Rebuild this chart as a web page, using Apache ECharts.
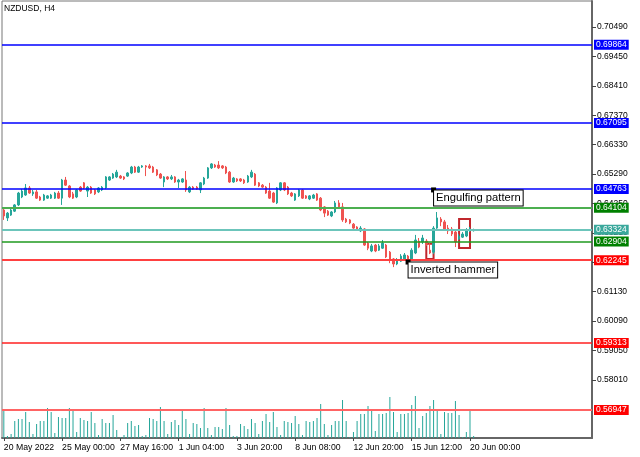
<!DOCTYPE html>
<html><head><meta charset="utf-8">
<script src="https://cdn.jsdelivr.net/npm/echarts@6/dist/echarts.min.js"></script>
<style>html,body{margin:0;padding:0;background:#fff}#c{width:640px;height:457px}</style>
</head><body><div id="c"></div>
<script>
// ---- data ----
const symbolTitle = 'NZDUSD, H4';
const barCount = 130;
const tickLabels = ['20 May 2022','25 May 00:00','27 May 16:00','1 Jun 04:00','3 Jun 20:00','8 Jun 08:00','12 Jun 20:00','15 Jun 12:00','20 Jun 00:00'];
const opens = [
.6402,.6374,.6384,.6398,.6420,.6448,.6455,.6480,.6459,.6466,
.6448,.6437,.6444,.6444,.6444,.6462,.6444,.6508,.6487,.6459,
.6448,.6483,.6498,.6469,.6483,.6473,.6466,.6473,.6480,.6508,
.6515,.6519,.6522,.6519,.6522,.6533,.6554,.6536,.6554,.6558,
.6558,.6554,.6544,.6529,.6501,.6519,.6512,.6519,.6501,.6501,
.6508,.6466,.6483,.6483,.6473,.6494,.6515,.6551,.6561,.6561,
.6558,.6554,.6536,.6501,.6512,.6512,.6508,.6501,.6519,.6529,
.6498,.6490,.6483,.6469,.6462,.6427,.6473,.6498,.6483,.6462,
.6437,.6452,.6473,.6452,.6441,.6444,.6459,.6444,.6413,.6398,
.6381,.6395,.6427,.6413,.6370,.6367,.6352,.6342,.6328,.6335,
.6285,.6257,.6278,.6260,.6267,.6278,.6253,.6229,.6211,.6221,
.6229,.6239,.6229,.6250,.6292,.6289,.6292,.6260,.6253,.6338,
.6370,.6360,.6338,.6335,.6324,.6299,.6306,.6310,.6328,.6329];
const closes = [
.6381,.6391,.6402,.6420,.6462,.6469,.6480,.6462,.6466,.6444,
.6437,.6455,.6452,.6455,.6462,.6444,.6508,.6490,.6448,.6444,
.6473,.6469,.6480,.6483,.6462,.6459,.6480,.6483,.6519,.6519,
.6529,.6536,.6515,.6512,.6533,.6554,.6536,.6554,.6558,.6554,
.6551,.6536,.6526,.6515,.6519,.6512,.6519,.6501,.6508,.6512,
.6473,.6483,.6476,.6476,.6498,.6515,.6551,.6565,.6554,.6551,
.6551,.6533,.6501,.6515,.6505,.6505,.6498,.6522,.6536,.6490,
.6487,.6483,.6462,.6444,.6430,.6480,.6498,.6473,.6459,.6452,
.6459,.6473,.6444,.6444,.6452,.6455,.6437,.6402,.6391,.6384,
.6395,.6427,.6413,.6367,.6360,.6356,.6338,.6331,.6338,.6278,
.6267,.6275,.6257,.6275,.6285,.6236,.6225,.6211,.6225,.6239,
.6243,.6225,.6260,.6296,.6271,.6303,.6282,.6250,.6338,.6374,
.6360,.6335,.6328,.6317,.6289,.6310,.6317,.6331,.6335,.6332];
const highs = [
.6409,.6395,.6406,.6423,.6466,.6476,.6494,.6487,.6473,.6473,
.6452,.6459,.6455,.6459,.6466,.6469,.6512,.6519,.6490,.6466,
.6476,.6487,.6501,.6487,.6487,.6476,.6483,.6487,.6522,.6522,
.6533,.6544,.6526,.6522,.6536,.6558,.6558,.6558,.6561,.6561,
.6565,.6558,.6547,.6533,.6522,.6522,.6526,.6522,.6512,.6515,
.6540,.6487,.6487,.6487,.6501,.6519,.6554,.6568,.6565,.6575,
.6561,.6558,.6540,.6519,.6515,.6515,.6512,.6526,.6544,.6533,
.6501,.6494,.6487,.6498,.6466,.6483,.6501,.6501,.6487,.6466,
.6462,.6476,.6476,.6455,.6455,.6459,.6462,.6448,.6416,.6402,
.6398,.6434,.6437,.6427,.6374,.6370,.6356,.6345,.6345,.6338,
.6289,.6282,.6282,.6282,.6296,.6282,.6257,.6232,.6232,.6246,
.6250,.6243,.6267,.6314,.6303,.6314,.6299,.6285,.6345,.6395,
.6377,.6367,.6349,.6342,.6328,.6317,.6324,.6338,.6342,.6336];
const lows = [
.6367,.6363,.6381,.6395,.6416,.6444,.6452,.6459,.6452,.6441,
.6434,.6434,.6441,.6441,.6441,.6441,.6420,.6487,.6444,.6441,
.6444,.6466,.6476,.6448,.6459,.6455,.6462,.6469,.6476,.6505,
.6512,.6515,.6512,.6508,.6519,.6529,.6533,.6533,.6551,.6522,
.6547,.6533,.6522,.6512,.6483,.6508,.6508,.6498,.6480,.6498,
.6466,.6462,.6473,.6473,.6462,.6490,.6512,.6547,.6551,.6547,
.6547,.6529,.6498,.6498,.6501,.6501,.6494,.6498,.6515,.6487,
.6483,.6480,.6459,.6441,.6427,.6423,.6469,.6469,.6455,.6448,
.6434,.6448,.6441,.6441,.6437,.6441,.6434,.6398,.6377,.6381,
.6377,.6391,.6409,.6360,.6356,.6352,.6335,.6328,.6324,.6275,
.6260,.6253,.6253,.6257,.6264,.6232,.6214,.6200,.6207,.6218,
.6225,.6218,.6221,.6246,.6267,.6282,.6275,.6246,.6246,.6335,
.6345,.6331,.6317,.6310,.6271,.6296,.6303,.6306,.6324,.6326];
const volumes = [
2800,200,400,1700,1900,1900,2600,1600,400,1400,
1700,1700,3000,2600,500,2100,2000,2000,3000,2800,
600,2000,1800,1700,2600,1500,300,1900,1500,1500,
2300,800,100,300,1500,1700,1200,1300,200,300,
2000,1900,1700,3100,1700,400,1600,1800,1300,2800,
1900,400,1500,1400,1000,3000,1000,300,1100,1100,
900,3000,1300,200,200,1400,1200,900,1900,1500,
400,1700,2400,1600,2600,1100,300,1700,1600,1500,
2200,1400,300,1700,1600,1700,2000,3400,1400,300,
1300,1700,1700,3800,1700,100,600,1700,2400,2400,
3200,2800,700,2400,2400,2500,4100,2600,600,2400,
2400,2500,3300,4200,1000,2200,2500,3200,3800,2800,
400,2600,2500,2500,3700,2300,100,600,2800,200];
const levels = [0.69864,0.67095,0.64763,0.64104,0.63324,0.62904,0.62245,0.59313,0.56947];
const yTicks = [0.70490,0.69450,0.68410,0.67370,0.66330,0.65290,0.64250,0.63210,0.62170,0.61130,0.60090,0.59050,0.58010];
const boxFrom = [116,125];
const boxTo = [118,128];
const boxTop = [0.6283,0.6370];
const boxBottom = [0.6229,0.6268];
const noteText = ['Engulfing pattern','Inverted hammer'];
const noteBar = [118,111];
const notePrice = [0.6473,0.6218];

// ---- styles ----
const levelLine = ['#0000ff','#0000ff','#0000ff','#4caf50','#6cc5bb','#1f9a1f','#ff4040','#ff2020','#ff6464'];
const levelWidth = [1.5,1.5,1.5,2,2,1.5,2,1.5,2];
const levelBg = ['#0000ff','#0000ff','#0000ff','#008000','#3aa89c','#008000','#ff0000','#ff0000','#ff0000'];
const FONT = 'Liberation Sans';

const months=['Jan','Feb','Mar','Apr','May','Jun','Jul','Aug','Sep','Oct','Nov','Dec'];
const categories=[];
let t = Date.UTC(2022,4,20,12);
while(categories.length<barCount){
  const d=new Date(t), wd=d.getUTCDay(), h=d.getUTCHours();
  if((wd>=1&&wd<=5)||(wd===0&&h===20)) categories.push(d.getUTCDate()+' '+months[d.getUTCMonth()]+' '+String(h).padStart(2,'0')+':00');
  t+=4*3600e3;
}
const emptySlots = 32;
for(let k=0;k<emptySlots;k++) categories.push('');
const isTick = (idx)=> idx%16===0 && idx<=128;

const chart = echarts.init(document.getElementById('c'), null, {renderer:'canvas'});
chart.setOption({
  animation:false,
  backgroundColor:'#fff',
  textStyle:{fontFamily:FONT},
  title:{text:symbolTitle,left:4,top:4,padding:0,textStyle:{fontSize:8.5,fontWeight:'normal',color:'#000',fontFamily:FONT}},
  grid:{left:2,right:48,top:1,bottom:19,show:true,borderColor:'#777',borderWidth:1,containLabel:false},
  xAxis:[{
    type:'category',data:categories,boundaryGap:true,
    axisLine:{show:true,lineStyle:{color:'#666',width:2}},
    axisTick:{show:true,interval:isTick,alignWithLabel:true,length:3,lineStyle:{color:'#444'}},
    axisLabel:{interval:isTick,align:'left',margin:5,fontSize:8.7,color:'#000',fontFamily:FONT,
      formatter:(v,idx)=>tickLabels[idx/16]||''},
    splitLine:{show:false}
  }],
  yAxis:[{
    type:'value',position:'right',min:0.55956,max:0.71413,
    axisLine:{show:true,lineStyle:{color:'#666',width:2}},
    axisTick:{show:true,customValues:yTicks,length:4,lineStyle:{color:'#444'}},
    axisLabel:{customValues:yTicks,formatter:v=>v.toFixed(5),fontSize:8.5,color:'#000',margin:5,fontFamily:FONT},
    splitLine:{show:false}
  },{
    type:'value',min:0,max:43700,show:false,splitLine:{show:false}
  }],
  series:[{
    type:'bar',xAxisIndex:0,yAxisIndex:1,data:volumes,barWidth:1,silent:true,
    itemStyle:{color:'#26a69a'}
  },{
    type:'line',xAxisIndex:0,yAxisIndex:0,data:[],silent:true,symbol:'none',
    markLine:{
      silent:true,symbol:['none','none'],animation:false,precision:5,
      data:levels.map((v,i)=>({yAxis:v,
        lineStyle:{color:levelLine[i],width:levelWidth[i],type:'solid',opacity:1},
        emphasis:{disabled:true},
        label:{show:true,position:'end',distance:2,formatter:()=>levels[i].toFixed(5),
          color:'#fff',backgroundColor:levelBg[i],padding:[1,2,0,2],fontSize:8.5,fontFamily:FONT,align:'left'}}))
    }
  },{
    type:'candlestick',xAxisIndex:0,yAxisIndex:0,barWidth:2,silent:true,
    data:opens.map((o,i)=>[o,closes[i],lows[i],highs[i]]),
    itemStyle:{color:'#26a69a',color0:'#ef5350',borderColor:'#26a69a',borderColor0:'#ef5350',borderWidth:1},
    markArea:{
      silent:true,
      itemStyle:{color:'rgba(0,0,0,0)',borderColor:'#c0272d',borderWidth:2},
      data:boxFrom.map((f,i)=>[{coord:[f,boxTop[i]]},{coord:[boxTo[i],boxBottom[i]]}])
    },
    markPoint:{
      silent:true,symbol:'rect',symbolSize:5,animation:false,
      itemStyle:{color:'#000'},
      data:noteText.map((s,i)=>({coord:[noteBar[i],notePrice[i]],name:s,
        label:{show:true,position:[3,3],formatter:s,align:'left',verticalAlign:'top',
          color:'#000',fontSize:11.2,fontFamily:FONT,backgroundColor:'#fff',borderColor:'#000',borderWidth:1,
          padding:[1,2,1,2],lineHeight:13}}))
    }
  }]
});
</script></body></html>
